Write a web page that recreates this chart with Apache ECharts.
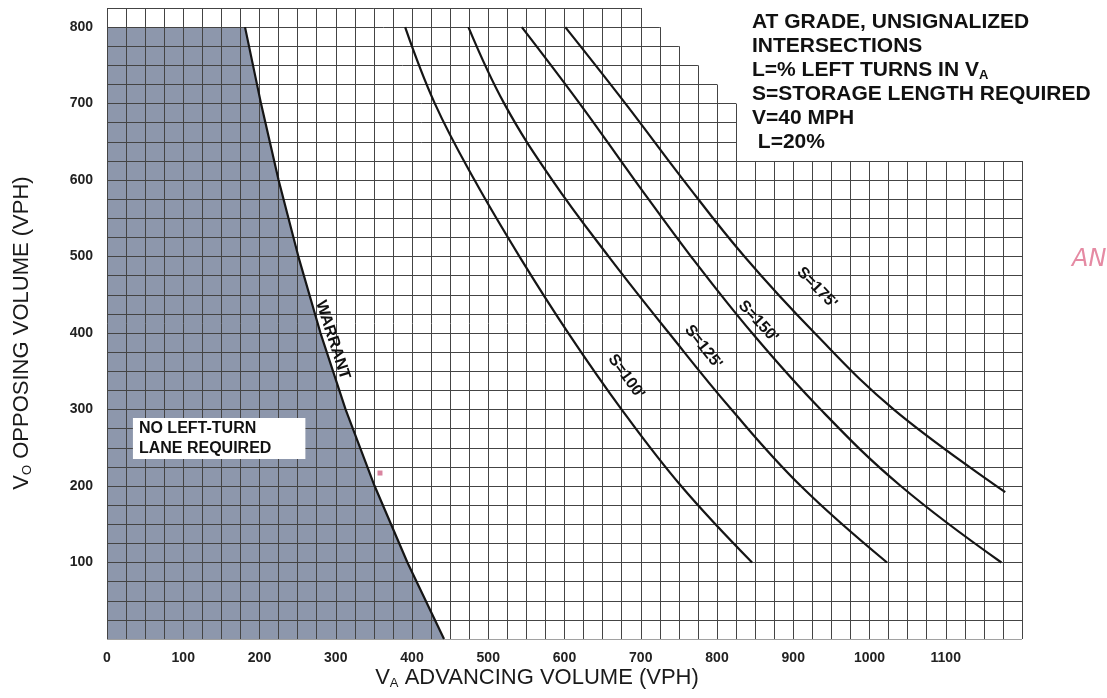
<!DOCTYPE html>
<html><head><meta charset="utf-8">
<script src="https://cdn.jsdelivr.net/npm/echarts@6/dist/echarts.min.js"></script>
<style>html,body{margin:0;padding:0;background:#fff}#c{width:1107px;height:698px}</style>
</head><body><div id="c"></div>
<script>
// ---- data ----
const xTickValues = [0,100,200,300,400,500,600,700,800,900,1000,1100];
const yTickValues = [100,200,300,400,500,600,700,800];
const gridStep = 25;
const xMax = 1200, yMax = 825;
const stepEdges = [0,700,725,750,775,800,825,1200];
const stepTops  = [825,800,775,750,725,700,625];
const shadeTop = 800;
const warrantCurve = [[181,800],[202,700],[225,600],[251,500],[280,400],[313,300],[351,200],[394,100],[442,0]];
const s100 = [[391,800],[430,700],[482,600],[541,500],[605,400],[675,300],[753,200],[846,100]];
const s125 = [[474,800],[521,700],[584,600],[658,500],[737,400],[819,300],[910,200],[1023,100]];
const s150 = [[544,800],[620,700],[692,600],[766,500],[846,400],[936,300],[1041,200],[1173,100]];
const s175 = [[601,800],[680,700],[756,600],[836,500],[928,400],[1032,300],[1178,192]];
const curveLabels = ["S=100'","S=125'","S=150'","S=175'","WARRANT"];
const curveLabelAt = [[681,343],[782,382],[854,415],[931,459],[296,391]];
const curveLabelAngle = [-54,-52,-47,-46,-72];
const boxLabel = "NO LEFT-TURN\nLANE REQUIRED";
const boxLabelAt = [34,262];
const stray = [[358,217]];

// ---- build ----
const FF = 'Liberation Sans, Arial, Helvetica, sans-serif';
function topAt(x){let t=0;for(let i=0;i<stepTops.length;i++){if(x>=stepEdges[i]&&x<=stepEdges[i+1])t=Math.max(t,stepTops[i]);}return t;}
function rightAt(y){let r=0;for(let i=0;i<stepTops.length;i++){if(stepTops[i]>=y)r=Math.max(r,stepEdges[i+1]);}return r;}
const segs=[];
for(let x=0;x<=xMax;x+=gridStep) segs.push({coords:[[x,0],[x,topAt(x)]]});
for(let y=0;y<=yMax;y+=gridStep) segs.push({coords:[[0,y],[rightAt(y),y]]});

const shadeData = [[0,shadeTop]].concat(warrantCurve);
const curveStyle = {color:'#151515', width:2.2};
function curve(name,data){return {type:'line',name,data,symbol:'none',smooth:0.4,lineStyle:curveStyle,z:4,silent:true};}

const chart = echarts.init(document.getElementById('c'));
chart.setOption({
  animation:false,
  backgroundColor:'#ffffff',
  grid:{left:107,right:85,top:8,bottom:59},
  xAxis:{type:'value',min:0,max:xMax,interval:100,
    axisLine:{show:false},axisTick:{show:false},splitLine:{show:false},
    axisLabel:{formatter:v=>xTickValues.includes(v)?String(v):'',fontSize:14,fontWeight:'bold',color:'#222',margin:12,fontFamily:FF,showMaxLabel:false}},
  yAxis:{type:'value',min:0,max:yMax,interval:100,
    axisLine:{show:false},axisTick:{show:false},splitLine:{show:false},
    axisLabel:{formatter:v=>yTickValues.includes(v)?String(v):'',fontSize:14,fontWeight:'bold',color:'#222',margin:14,fontFamily:FF,showMaxLabel:false}},
  series:[
    {type:'line',name:'shade',data:shadeData,symbol:'none',lineStyle:{width:0},areaStyle:{color:'#8d97ac',opacity:1},z:1,silent:true},
    {type:'lines',coordinateSystem:'cartesian2d',data:segs,lineStyle:{color:'#444',width:1,opacity:1},z:2,silent:true},
    {type:'line',name:'warrant',data:warrantCurve,symbol:'none',lineStyle:curveStyle,z:4,silent:true},
    curve('S=100',s100),curve('S=125',s125),curve('S=150',s150),curve('S=175',s175),
    {type:'scatter',symbolSize:0,z:6,silent:true,itemStyle:{opacity:1},
      data:curveLabels.map((t,i)=>({value:curveLabelAt[i],name:t,label:{rotate:curveLabelAngle[i]}})),
      label:{show:true,position:'inside',formatter:p=>p.name,fontSize:16,color:'#111',fontFamily:FF,fontWeight:'bold',opacity:1}},
    {type:'scatter',symbolSize:0,z:6,silent:true,itemStyle:{opacity:1},
      data:[{value:boxLabelAt,name:boxLabel}],
      label:{show:true,position:'right',distance:0,formatter:p=>p.name,fontSize:16,lineHeight:20,color:'#111',fontFamily:FF,fontWeight:'bold',opacity:1,
        backgroundColor:'#ffffff',padding:[1,34,0,6],align:'left'}},
    {type:'scatter',symbol:'rect',symbolSize:5,z:6,silent:true,data:stray,itemStyle:{color:'#d9849f',opacity:1}}
  ],
  graphic:[
    {type:'text',x:537,y:678,silent:true,style:{text:'V{s|A} ADVANCING VOLUME (VPH)',fill:'#1a1a1a',fontSize:22,fontFamily:FF,align:'center',verticalAlign:'middle',
      rich:{s:{fontSize:13,padding:[10,0,0,0],fill:'#1a1a1a',fontFamily:FF}}}},
    {type:'text',x:22,y:333,rotation:Math.PI/2,silent:true,style:{text:'V{s|O} OPPOSING VOLUME (VPH)',fill:'#1a1a1a',fontSize:22,fontFamily:FF,align:'center',verticalAlign:'middle',
      rich:{s:{fontSize:13,padding:[10,0,0,0],fill:'#1a1a1a',fontFamily:FF}}}},
    {type:'text',x:752,y:10,silent:true,style:{text:'AT GRADE, UNSIGNALIZED\nINTERSECTIONS\nL=% LEFT TURNS IN V{s|A}\nS=STORAGE LENGTH REQUIRED\nV=40 MPH\n L=20%',
      fill:'#111',fontSize:21,fontWeight:'bold',lineHeight:24,fontFamily:FF,align:'left',verticalAlign:'top',
      rich:{s:{fontSize:13,fontWeight:'bold',padding:[10,0,0,0],fill:'#111',fontFamily:FF}}}},
    {type:'text',x:1072,y:260,silent:true,style:{text:'AN',fill:'#e58aa3',fontSize:24,fontStyle:'italic',fontFamily:'DejaVu Sans, sans-serif',align:'left',verticalAlign:'middle'}}
  ]
});
</script></body></html>
